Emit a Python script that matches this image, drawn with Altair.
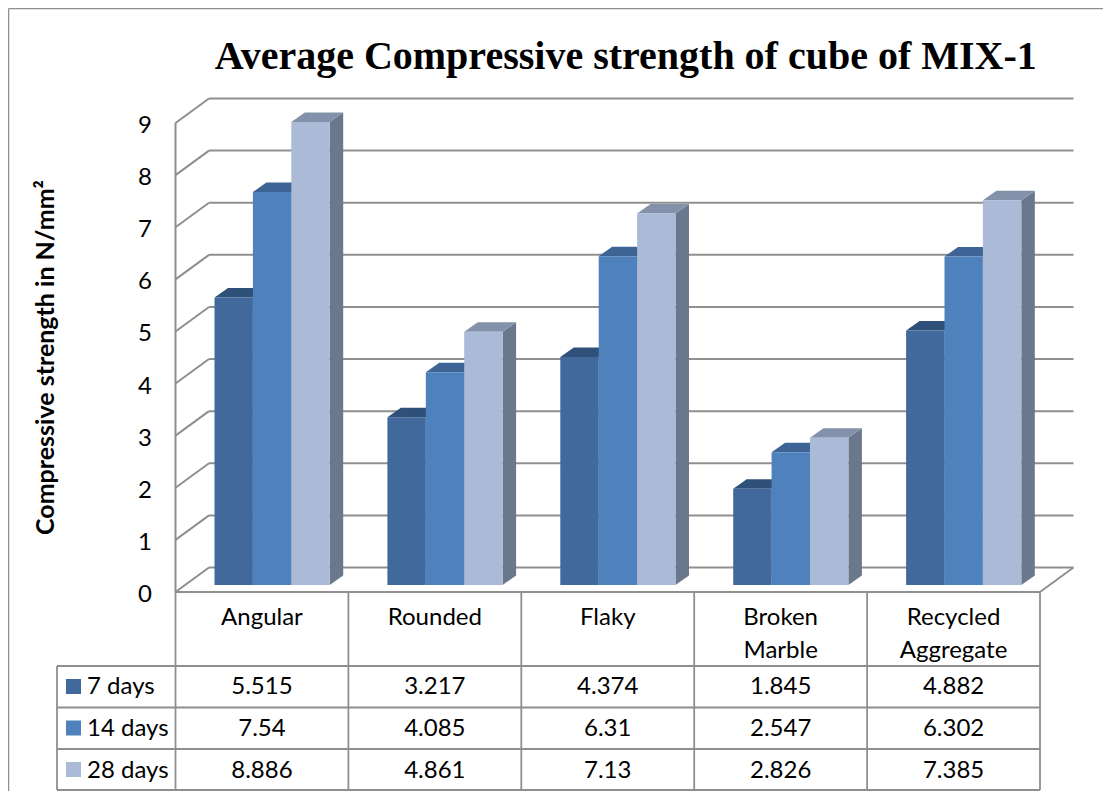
import altair as alt
import pandas as pd

categories = ["Angular", "Rounded", "Flaky", "Broken Marble", "Recycled Aggregate"]
days_7 = [5.515, 3.217, 4.374, 1.845, 4.882]
days_14 = [7.54, 4.085, 6.31, 2.547, 6.302]
days_28 = [8.886, 4.861, 7.13, 2.826, 7.385]
day_labels = ["7 days", "14 days", "28 days"]
value_text = [
    ["5.515", "3.217", "4.374", "1.845", "4.882"],
    ["7.54", "4.085", "6.31", "2.547", "6.302"],
    ["8.886", "4.861", "7.13", "2.826", "7.385"],
]
front_colors = ["#41699c", "#4f81bd", "#aabad7"]
top_colors = ["#2f5179", "#3d6494", "#8391aa"]
side_colors = ["#33527a", "#3e6595", "#6b778c"]
GRID = "#8f8f8f"
FONT = "Lato"

# page geometry (px on the page), used only to convert layout into scale units
X0, X1, Y0, Y9 = 175.5, 1040.0, 592.0, 123.0
PX_X = (X1 - X0) / 5
PX_Y = (Y0 - Y9) / 9
ux = lambda px: (px - X0) / PX_X
uy = lambda px: (Y0 - px) / PX_Y

DX, DY = 33.5 / PX_X, 24.5 / PX_Y          # depth of the walls
BDX, BDY = 13.5 / PX_X, 9.5 / PX_Y         # depth of a bar
BASE = 7 / PX_Y                            # bars stand this far above the front edge
BAR_W = 38.4 / PX_X
BAR_START = 39 / PX_X

xs = alt.Scale(domain=[0, 5], nice=False, zero=False)
ys = alt.Scale(domain=[0, 9], nice=False, zero=False)
X = lambda f: alt.X(f, type="quantitative", scale=xs, axis=None)
Y = lambda f: alt.Y(f, type="quantitative", scale=ys)


def segs(rows, color=GRID, width=2.0):
    return alt.Chart(pd.DataFrame(rows, columns=["x", "x2", "y", "y2"])).mark_rule(
        color=color, strokeWidth=width
    ).encode(x=X("x"), x2="x2", y=Y("y"), y2="y2")


axis_layer = alt.Chart(pd.DataFrame({"v": list(range(10))})).mark_rule(color=GRID, strokeWidth=0.01).encode(
    x=alt.value(0), x2=alt.value(0),
    y=alt.Y("v:Q", scale=ys, axis=alt.Axis(
        values=list(range(10)), ticks=False, domain=False, grid=False,
        labelFont=FONT, labelFontSize=24, labelColor="#000000", labelPadding=24,
        labelBound=False, labelFlush=False, labelOverlap=False, labelOffset=2.5,
        title="Compressive strength in N/mm²", titleFont=FONT, titleFontSize=25,
        titleFontWeight="bold", titleColor="#000000", titleX=-117, titleY=234,
    ))
)

layers = [axis_layer]

# outer frame
layers.append(segs([
    [ux(8.5), ux(1111), uy(8.5), uy(8.5)],
    [ux(8.5), ux(8.5), uy(8.5), uy(791)],
], width=1.5))

# walls and floor
grid_rows = []
for v in range(10):
    grid_rows.append([DX, 5 + DX, v + DY, v + DY])
    grid_rows.append([0, DX, v, v + DY])
grid_rows.append([5, 5 + DX, 0, DY])
grid_rows.append([0, 0, 0, 9])
layers.append(segs(grid_rows))

# bars
series = [days_7, days_14, days_28]
for s, vals in enumerate(series):
    side, top, front = [], [], []
    for g, v in enumerate(vals):
        x0 = g + BAR_START + s * BAR_W
        x1 = x0 + BAR_W
        h = v + BASE
        side += [
            {"g": g, "x": x1, "y": BASE, "y2": h},
            {"g": g, "x": x1 + BDX, "y": BASE + BDY, "y2": h + BDY},
        ]
        top += [
            {"g": g, "x": x0, "y": h, "y2": h},
            {"g": g, "x": x0 + BDX, "y": h, "y2": h + BDY},
            {"g": g, "x": x1, "y": h, "y2": h + BDY},
            {"g": g, "x": x1 + BDX, "y": h + BDY, "y2": h + BDY},
        ]
        front.append({"x": x0, "x2": x1, "y": BASE, "y2": h})
    for rows, col in ((side, side_colors[s]), (top, top_colors[s])):
        layers.append(
            alt.Chart(pd.DataFrame(rows)).mark_area(color=col, orient="vertical").encode(
                x=X("x"), y=alt.Y("y", type="quantitative", scale=ys, stack=None),
                y2="y2", detail="g:N",
            )
        )
    layers.append(
        alt.Chart(pd.DataFrame(front)).mark_rect(color=front_colors[s]).encode(
            x=X("x"), x2="x2", y=Y("y"), y2="y2"
        )
    )

# data table rules
ROW_Y = [666.0, 707.5, 749.0, 790.0]
COL_X = [X0 + PX_X * i for i in range(6)]
table = [[ux(57), 5, uy(r), uy(r)] for r in ROW_Y]
table.append([0, 5, 0, 0])
table.append([ux(57), ux(57), uy(ROW_Y[0]), uy(ROW_Y[-1])])
table += [[ux(c), ux(c), 0, uy(ROW_Y[-1])] for c in COL_X]
layers.append(segs(table, width=1.8))


def texts(rows, align="center", size=24):
    return alt.Chart(pd.DataFrame(rows, columns=["x", "y", "t"])).mark_text(
        font=FONT, fontSize=size, align=align, baseline="middle", color="#000000"
    ).encode(x=X("x"), y=Y("y"), text="t:N")


# category labels
cat_rows = []
for i, c in enumerate(categories):
    parts = c.split(" ")
    for j, p in enumerate(parts):
        cat_rows.append([i + 0.5, uy(618 + j * 33), p])
layers.append(texts(cat_rows))

# table values
val_rows = []
CENTERS = [687, 729, 770.5]
for r, row in enumerate(value_text):
    for i, t in enumerate(row):
        val_rows.append([i + 0.5, uy(CENTERS[r]), t])
layers.append(texts(val_rows))

# legend keys and labels
KEY_TOP = [679, 720.5, 762]
for r, lab in enumerate(day_labels):
    layers.append(
        alt.Chart(pd.DataFrame([{"x": ux(66), "x2": ux(81), "y": uy(KEY_TOP[r]), "y2": uy(KEY_TOP[r] + 15)}]))
        .mark_rect(color=front_colors[r])
        .encode(x=X("x"), x2="x2", y=Y("y"), y2="y2")
    )
layers.append(texts([[ux(87), uy(CENTERS[r]), lab] for r, lab in enumerate(day_labels)], align="left"))

chart = alt.layer(*layers).properties(
    width=X1 - X0,
    height=Y0 - Y9,
    padding={"left": X0 - 8, "top": Y9 - 8, "right": 1103 - X1, "bottom": 783 - (Y0 - 8)},
    autosize=alt.AutoSizeParams(type="none"),
    background="#ffffff",
    title=alt.TitleParams(
        "Average Compressive strength of cube of MIX-1",
        font="Liberation Serif", fontSize=40, fontWeight="bold", color="#000000",
        anchor="middle", dx=18, offset=-69,
    ),
).configure_view(stroke=None)

chart.save("out.html", embed_options={"renderer": "svg", "actions": False})
